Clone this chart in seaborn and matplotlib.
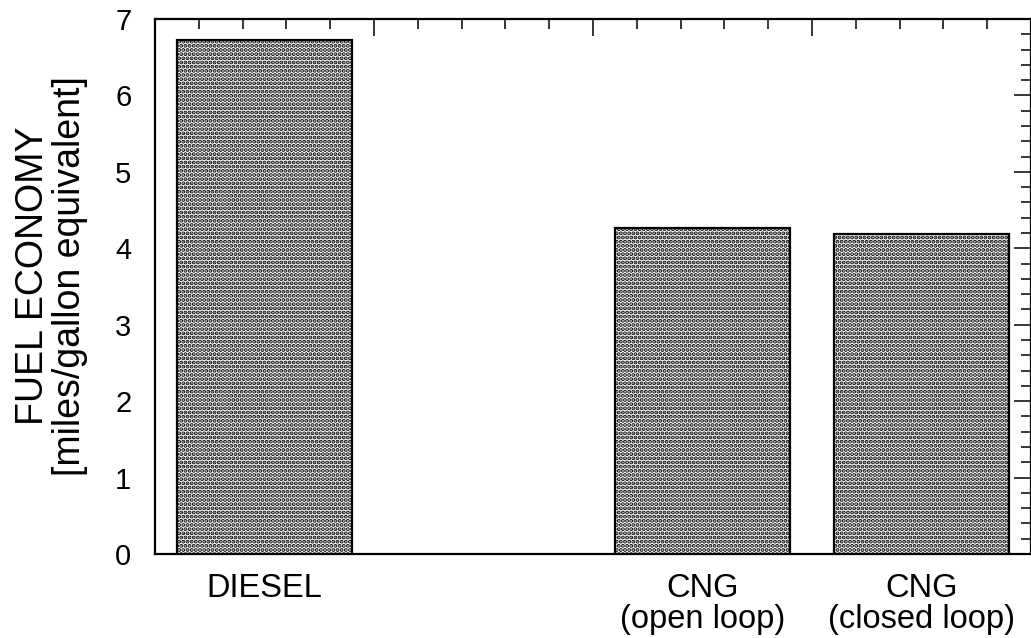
import matplotlib
matplotlib.use("Agg")
import matplotlib.pyplot as plt
from matplotlib.ticker import MultipleLocator
import numpy as np
import seaborn as sns

# Fuel economy by fuel type
fuels = ["DIESEL", "CNG\n(open loop)", "CNG\n(closed loop)"]
economy = [6.72, 4.27, 4.19]
# Category slots along the x axis (second slot left empty)
slot_order = ["DIESEL", " ", "CNG\n(open loop)", "CNG\n(closed loop)"]
y_ticks = [0, 1, 2, 3, 4, 5, 6, 7]
y_label = "FUEL ECONOMY\n[miles/gallon equivalent]"

sns.set_style("white")
plt.rcParams["font.family"] = ["Liberation Sans", "DejaVu Sans"]
plt.rcParams["text.color"] = "black"
plt.rcParams["axes.labelcolor"] = "black"
plt.rcParams["xtick.color"] = "black"
plt.rcParams["ytick.color"] = "black"
plt.rcParams["hatch.linewidth"] = 2.0
plt.rcParams["hatch.color"] = "black"

fig = plt.figure(figsize=(10.31, 6.38), dpi=100)
ax = fig.add_axes([0.1503, 0.1317, 0.8497, 0.8386])

sns.barplot(x=fuels, y=economy, order=slot_order, ax=ax,
            color="white", edgecolor="black", linewidth=1.6,
            hatch="....", width=0.8, saturation=1)

ax.set_xlim(-0.5, 3.5)
ax.set_ylim(0, 7)

# Slot boundaries as major ticks, fine subdivisions as minor ticks
ax.set_xticks(np.arange(-0.5, 3.51, 1.0))
ax.set_xticklabels([])
ax.xaxis.set_minor_locator(MultipleLocator(0.2, offset=0.1))
ax.set_yticks(y_ticks)
ax.set_yticklabels([str(v) for v in y_ticks])
ax.yaxis.set_minor_locator(MultipleLocator(0.2))

ax.tick_params(which="both", direction="in", top=True, right=True,
               width=1.1, color="black")
ax.tick_params(which="major", length=12)
ax.tick_params(which="minor", length=7)
ax.tick_params(axis="y", which="major", labelsize=21, pad=17,
               labelcolor="black")

for side in ["left", "right", "top", "bottom"]:
    ax.spines[side].set_visible(True)
    ax.spines[side].set_linewidth(1.6)
    ax.spines[side].set_color("black")

# Category names centred under the bars
sec = ax.secondary_xaxis("bottom")
sec.set_xticks([0, 2, 3])
sec.set_xticklabels([fuels[0], fuels[1], fuels[2]], fontsize=23.5,
                    linespacing=0.98, color="black")
sec.tick_params(length=0, pad=14)
sec.spines["bottom"].set_visible(False)

ax.set_xlabel("")
ax.set_ylabel(y_label, fontsize=27, linespacing=1.03)
ax.yaxis.set_label_coords(-0.077, 0.52)

fig.savefig("out.png", dpi=100, facecolor="white")
